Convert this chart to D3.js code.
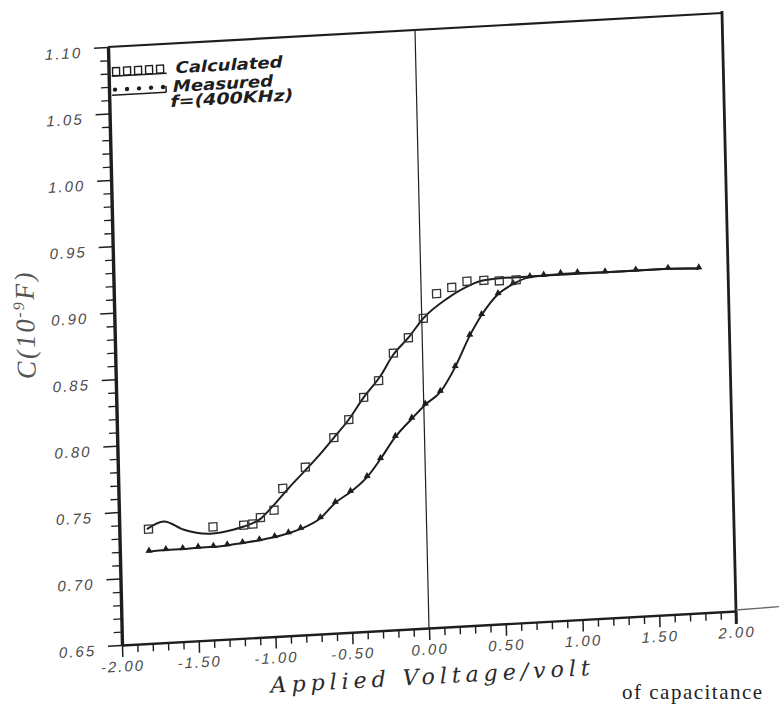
<!DOCTYPE html>
<html><head><meta charset="utf-8">
<script src="https://cdn.jsdelivr.net/npm/d3@7"></script>
<style>html,body{margin:0;padding:0;background:#fff;} svg{display:block}</style>
</head><body><svg id="c" width="779" height="705"></svg>
<script>
// ---- data ----
const xMajorTicks = [-2, -1.5, -1, -0.5, 0, 0.5, 1, 1.5, 2];
const xTickLabels = ["-2.00", "-1.50", "-1.00", "-0.50", "0.00", "0.50", "1.00", "1.50", "2.00"];
const yMajorTicks = [0.65, 0.70, 0.75, 0.80, 0.85, 0.90, 0.95, 1.00, 1.05, 1.10];
const yTickLabels = ["0.65", "0.70", "0.75", "0.80", "0.85", "0.90", "0.95", "1.00", "1.05", "1.10"];

// smooth curve through the upper branch
const upperVolt = [-1.82, -1.71, -1.58, -1.41, -1.26, -1.19, -1.08, -0.99, -0.90, -0.70, -0.59, -0.49, -0.39, -0.28, -0.19, -0.09, 0.01, 0.17, 0.30, 0.41, 0.55, 0.71, 0.91, 1.20, 1.61, 1.81];
const upperCap  = [0.736, 0.741, 0.734, 0.730, 0.732, 0.734, 0.739, 0.749, 0.760, 0.783, 0.797, 0.810, 0.826, 0.841, 0.857, 0.869, 0.883, 0.897, 0.905, 0.909, 0.910, 0.910, 0.910, 0.910, 0.910, 0.909];

// Calculated (open squares)
const calcVolt = [-1.81, -1.39, -1.19, -1.13, -1.08, -0.99, -0.93, -0.78, -0.59, -0.49, -0.39, -0.29, -0.19, -0.09, 0.01, 0.10, 0.20, 0.30, 0.41, 0.51, 0.62];
const calcCap  = [0.736, 0.735, 0.735, 0.7355, 0.740, 0.745, 0.761, 0.776, 0.797, 0.810, 0.826, 0.838, 0.858, 0.869, 0.883, 0.901, 0.905, 0.909, 0.909, 0.908, 0.908];

// Measured f=(400KHz)
const measVolt = [-1.81, -1.70, -1.59, -1.49, -1.39, -1.30, -1.20, -1.09, -0.99, -0.90, -0.82, -0.69, -0.59, -0.49, -0.38, -0.29, -0.19, -0.08, 0.01, 0.11, 0.21, 0.31, 0.39, 0.50, 0.60, 0.71, 0.80, 0.91, 1.02, 1.20, 1.40, 1.61, 1.81];
const measCap  = [0.719, 0.7195, 0.7196, 0.720, 0.720, 0.7205, 0.7216, 0.723, 0.7248, 0.727, 0.7298, 0.737, 0.748, 0.7555, 0.766, 0.779, 0.795, 0.808, 0.818, 0.827, 0.845, 0.868, 0.883, 0.898, 0.905, 0.9095, 0.910, 0.9106, 0.9106, 0.910, 0.910, 0.910, 0.909];

const legendNames = ["Calculated", "Measured", "f=(400KHz)"];

// ---- drawing ----
const W = 614, H = 598;
const svg = d3.select("#c");
const g = svg.append("g").attr("transform", "matrix(1,-0.05537,0.02341,1,108,47)");
const x = d3.scaleLinear().domain([-2, 2]).range([0, W]);
const y = d3.scaleLinear().domain([0.65, 1.10]).range([H, 0]);
const ink = "#1e1e1e";

const xMinor = d3.range(-20, 21).map(i => i / 10).filter(v => !xMajorTicks.some(m => Math.abs(m - v) < 1e-9));
const yMinor = d3.range(65, 111).map(i => i / 100).filter(v => !yMajorTicks.some(m => Math.abs(m - v) < 1e-9));

// bottom axis
const bMinor = g.append("g").attr("transform", `translate(0,${H})`)
  .call(d3.axisBottom(x).tickValues(xMinor).tickSize(8).tickSizeOuter(0).tickFormat(""));
bMinor.select(".domain").remove();
bMinor.selectAll("line").attr("stroke", ink).attr("stroke-width", 1.4);
const bMajor = g.append("g").attr("transform", `translate(0,${H})`)
  .call(d3.axisBottom(x).tickValues(xMajorTicks).tickSize(12).tickSizeOuter(0).tickPadding(4)
    .tickFormat((d, i) => xTickLabels[i]));
bMajor.select(".domain").attr("stroke", ink).attr("stroke-width", 2.4);
bMajor.selectAll("line").attr("stroke", ink).attr("stroke-width", 1.5);
bMajor.selectAll("text").attr("font-family", "'Liberation Sans', Arial, sans-serif").attr("font-style", "italic")
  .attr("font-size", 15).attr("letter-spacing", 2).attr("fill", "#4a4a4a");

// left axis
const lMinor = g.append("g")
  .call(d3.axisLeft(y).tickValues(yMinor).tickSize(8).tickSizeOuter(0).tickFormat(""));
lMinor.select(".domain").remove();
lMinor.selectAll("line").attr("stroke", ink).attr("stroke-width", 1.3);
const lMajor = g.append("g")
  .call(d3.axisLeft(y).tickValues(yMajorTicks).tickSize(14).tickSizeOuter(0).tickPadding(12)
    .tickFormat((d, i) => yTickLabels[i]));
lMajor.select(".domain").attr("stroke", ink).attr("stroke-width", 3.4);
lMajor.selectAll("line").attr("stroke", ink).attr("stroke-width", 1.5);
lMajor.selectAll("text").attr("dy", "0.6em").attr("font-family", "'Liberation Sans', Arial, sans-serif")
  .attr("font-style", "italic").attr("font-size", 15).attr("letter-spacing", 2).attr("fill", "#4a4a4a");

// frame: top and right, zero line, axis extension
g.append("line").attr("x1", x(-2)).attr("x2", x(2)).attr("y1", y(1.10)).attr("y2", y(1.10))
  .attr("stroke", ink).attr("stroke-width", 2.2);
g.append("line").attr("x1", x(2)).attr("x2", x(2)).attr("y1", y(1.10) - 2).attr("y2", H + 13)
  .attr("stroke", ink).attr("stroke-width", 2.8);
g.append("line").attr("x1", x(0)).attr("x2", x(0)).attr("y1", y(1.10)).attr("y2", H)
  .attr("stroke", ink).attr("stroke-width", 1.2);
g.append("line").attr("x1", x(2)).attr("x2", x(2) + 45).attr("y1", H - 1).attr("y2", H - 2)
  .attr("stroke", "#666").attr("stroke-width", 1.3);

// curves
const line = d3.line().x(d => x(d[0])).y(d => y(d[1])).curve(d3.curveMonotoneX);
g.append("path").datum(upperVolt.map((v, i) => [v, upperCap[i]])).attr("d", line)
  .attr("fill", "none").attr("stroke", ink).attr("stroke-width", 2);
g.append("path").datum(measVolt.map((v, i) => [v, measCap[i]])).attr("d", line)
  .attr("fill", "none").attr("stroke", ink).attr("stroke-width", 2);

// measured markers
g.selectAll("path.meas").data(measVolt.map((v, i) => [v, measCap[i]])).join("path")
  .attr("class", "meas")
  .attr("transform", d => `translate(${x(d[0])},${y(d[1]) - 1})`)
  .attr("d", d3.symbol(d3.symbolTriangle, 22)).attr("fill", ink);

// calculated squares
g.selectAll("rect.calc").data(calcVolt.map((v, i) => [v, calcCap[i]])).join("rect")
  .attr("class", "calc")
  .attr("x", d => x(d[0]) - 4).attr("y", d => y(d[1]) - 4).attr("width", 8).attr("height", 8)
  .attr("fill", "none").attr("stroke", "#333").attr("stroke-width", 1.3);

// legend
const lg = g.append("g");
d3.range(5).forEach(i => {
  lg.append("rect").attr("x", 4 + i * 11).attr("y", 21).attr("width", 7).attr("height", 8)
    .attr("fill", "none").attr("stroke", ink).attr("stroke-width", 1.4);
});
lg.append("line").attr("x1", 3).attr("x2", 58).attr("y1", 29.5).attr("y2", 29.5).attr("stroke", ink).attr("stroke-width", 1.5);
d3.range(5).forEach(i => {
  lg.append("circle").attr("cx", 6 + i * 12).attr("cy", 43).attr("r", 2.2).attr("fill", ink);
});
lg.append("line").attr("x1", 3).attr("x2", 57).attr("y1", 48.5).attr("y2", 48.5).attr("stroke", ink).attr("stroke-width", 1.5);
lg.append("line").attr("x1", 57).attr("x2", 57).attr("y1", 42).attr("y2", 48.5).attr("stroke", ink).attr("stroke-width", 1.5);
const legFont = "'DejaVu Sans', sans-serif";
[[legendNames[0], 67, 30, 107], [legendNames[1], 64, 48.5, 100], [legendNames[2], 61, 63.5, 123]].forEach(t => {
  lg.append("text").attr("x", t[1]).attr("y", t[2]).text(t[0])
    .attr("font-family", legFont).attr("font-weight", "bold").attr("font-style", "italic")
    .attr("font-size", 16).attr("textLength", t[3]).attr("lengthAdjust", "spacingAndGlyphs").attr("fill", ink);
});

// axis titles
g.append("text").attr("x", x(0)).attr("y", H + 56).attr("text-anchor", "middle")
  .attr("font-family", "'DejaVu Serif', serif").attr("font-style", "italic").attr("font-size", 22)
  .attr("textLength", 319).attr("lengthAdjust", "spacing").attr("fill", "#2a2a2a")
  .text("Applied Voltage/volt");

const yt = g.append("text").attr("transform", `translate(-80,273) rotate(-90)`).attr("text-anchor", "middle")
  .attr("font-family", "'Liberation Serif', serif").attr("font-style", "italic").attr("font-size", 27)
  .attr("letter-spacing", 2).attr("fill", "#555");
yt.append("tspan").text("C(10");
yt.append("tspan").attr("font-size", 16).attr("dy", -10).text("-9");
yt.append("tspan").attr("dy", 10).text("F)");

// caption fragment at bottom
svg.append("text").attr("x", 622).attr("y", 699).attr("font-family", "'Liberation Serif', serif")
  .attr("font-size", 21).attr("letter-spacing", 1.5).attr("fill", "#222").text("of capacitance");
</script>
</body></html>
